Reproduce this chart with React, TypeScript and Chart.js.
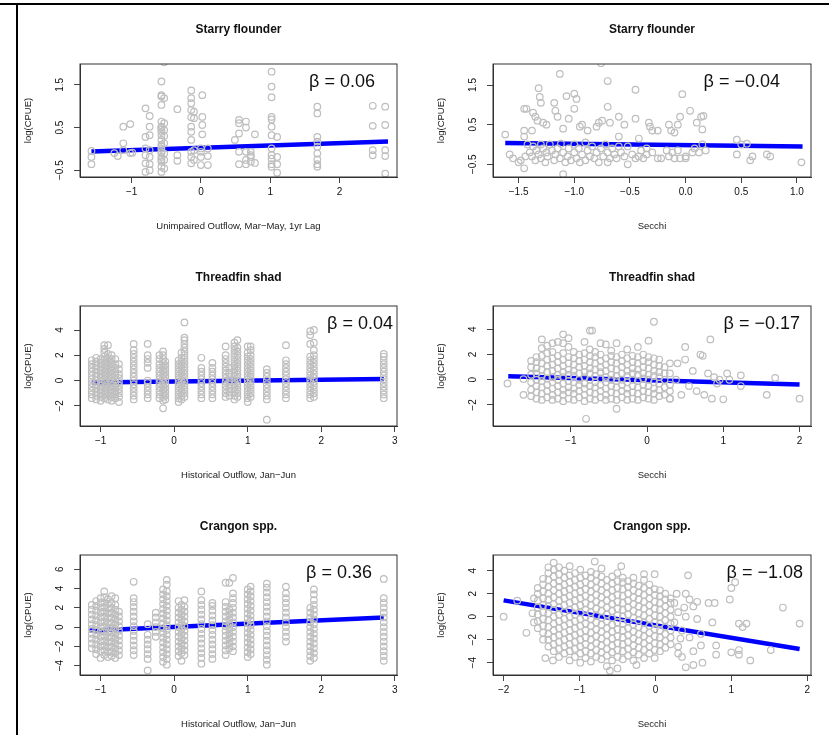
import { Chart, registerables } from "chart.js";
import { useEffect, useRef } from "react";

Chart.register(...registerables);

type Col = [number, number[]];

// ---- Starry flounder vs unimpaired outflow ----
const flounderOutflowCols: Col[] = [
  [-1.58, [-0.05, -0.19, -0.36]],
  [-1.25, [-0.1]],
  [-1.2, [-0.17]],
  [-1.12, [0.52, 0.13, -0.03]],
  [-1.02, [0.58, -0.1]],
  [-0.99, [-0.09]],
  [-0.8, [0.95, 0.28, 0.01, -0.15, -0.34, -0.54]],
  [-0.74, [0.77, 0.52, 0.32, -0.03, -0.19, -0.36, -0.5]],
  [-0.57, [1.58, 1.26, 1.23, 1.03, 0.64, 0.52, 0.32, 0.21, 0.05, -0.07, -0.19, -0.3, -0.42, -0.54, 0.5, 0.4, 0.45, 0.1, 0.0, -0.1, -0.25]],
  [-0.53, [2.03, 1.19, 0.44, 0.13, -0.11, -0.26, -0.46, 0.6, 0.3]],
  [-0.34, [0.93, -0.15, -0.28]],
  [-0.14, [1.37, 1.19, 1.07, 0.91, 0.74, 0.52, 0.4, 0.21, -0.07, -0.19, -0.34]],
  [-0.1, [0.87, 0.72, -0.03, -0.26]],
  [0.0, [0.01, -0.07, -0.19, -0.38]],
  [0.02, [1.26, 0.75, 0.56, 0.34]],
  [0.1, [0.01, -0.17, -0.38]],
  [0.49, [0.21]],
  [0.55, [0.68, 0.6, 0.36, -0.07, -0.36]],
  [0.65, [0.64, 0.5, -0.07, -0.26, -0.36]],
  [0.72, [-0.07, -0.15, -0.19, -0.3]],
  [0.78, [0.34, -0.33]],
  [1.02, [1.81, 1.46, 1.21, 0.75, 0.69, 0.52, 0.32, 0.01, -0.15, -0.23, -0.36, -0.42]],
  [1.1, [0.28, -0.19, -0.36, -0.56]],
  [1.68, [0.99, 0.83, 0.28, 0.17, 0.05, -0.11, -0.25, -0.36, -0.42]],
  [2.48, [1.01, 0.54, -0.03, -0.15]],
  [2.66, [0.99, 0.56, -0.03, -0.17, -0.58]],
];
const flounderOutflowFit: [number, number][] = [[-1.58, -0.06], [2.7, 0.17]];

// ---- Starry flounder vs Secchi ----
const flounderSecchiPts: [number, number][] = [
  [-1.62, 0.25], [-1.45, 0.9], [-1.43, 0.9], [-1.37, 0.8], [-1.35, 0.7], [-1.32, 1.42], [-1.31, 1.2], [-1.3, 1.05],
  [-1.33, 0.6], [-1.28, 0.55], [-1.25, 0.5], [-1.18, 1.05], [-1.17, 0.85], [-1.13, 1.78], [-1.15, 0.7], [-1.1, 0.4],
  [-1.05, 0.65], [-1.07, 1.22], [-1.0, 1.28], [-0.98, 1.15], [-1.0, 0.9], [-0.95, 0.45], [-0.93, 0.5], [-0.88, 0.35],
  [-0.8, 0.45], [-0.78, 0.55], [-0.75, 0.6], [-0.76, 2.05], [-0.7, 1.6], [-0.7, 0.95], [-0.68, 0.55], [-0.6, 0.7],
  [-0.55, 0.5], [-0.6, 0.2], [-0.45, 1.38], [-0.45, 0.65], [-0.42, 0.15], [-0.33, 0.55], [-0.32, 0.45], [-0.3, 0.35],
  [-0.25, 0.35], [-0.15, 0.5], [-0.13, 0.35], [-0.1, 0.3], [-0.07, 0.5], [-0.05, 0.7], [-0.03, 1.27], [0.04, 0.85],
  [0.1, 0.55], [0.14, 0.7], [0.16, 0.72], [0.15, 0.38], [0.46, 0.12], [0.55, 0.02], [-1.45, 0.35], [-1.45, 0.2],
  [-1.38, 0.35], [-1.58, -0.25], [-1.55, -0.35], [-1.5, -0.45], [-1.48, -0.4], [-1.45, -0.6], [-1.44, -0.3],
  [-1.42, 0.0], [-1.4, -0.2], [-1.38, -0.3], [-1.37, -0.05], [-1.35, -0.4], [-1.34, -0.15], [-1.32, -0.25],
  [-1.3, -0.35], [-1.3, 0.0], [-1.28, -0.1], [-1.26, -0.45], [-1.25, -0.2], [-1.24, -0.3], [-1.22, 0.0],
  [-1.2, -0.15], [-1.18, -0.4], [-1.17, -0.25], [-1.15, -0.1], [-1.13, -0.35], [-1.12, 0.02], [-1.1, -0.2],
  [-1.1, -0.75], [-1.08, -0.45], [-1.06, -0.3], [-1.05, -0.1], [-1.03, -0.4], [-1.0, -0.2], [-1.0, 0.0],
  [-0.98, -0.35], [-0.96, -0.1], [-0.95, -0.45], [-0.93, -0.25], [-0.9, -0.4], [-0.9, 0.05], [-0.88, -0.15],
  [-0.86, -0.3], [-0.84, -0.05], [-0.82, -0.35], [-0.8, -0.2], [-0.78, -0.45], [-0.76, -0.1], [-0.74, -0.3],
  [-0.72, 0.0], [-0.7, -0.2], [-0.7, -0.45], [-0.68, -0.35], [-0.66, -0.1], [-0.64, -0.25], [-0.62, -0.35],
  [-0.6, -0.05], [-0.58, -0.2], [-0.55, -0.3], [-0.52, -0.05], [-0.52, -0.5], [-0.48, -0.25], [-0.45, -0.35],
  [-0.42, -0.3], [-0.4, -0.15], [-0.38, -0.35], [-0.35, -0.1], [-0.35, -0.25], [-0.3, -0.2], [-0.25, -0.35],
  [-0.22, -0.35], [-0.17, -0.15], [-0.15, -0.3], [-0.12, -0.2], [-0.1, -0.35], [-0.07, -0.15], [-0.05, -0.35],
  [0.0, -0.3], [0.0, -0.35], [0.06, -0.2], [0.08, -0.1], [0.12, -0.2], [0.15, 0.0], [0.18, -0.15], [0.46, -0.25],
  [0.5, 0.0], [0.58, -0.4], [0.6, -0.3], [0.73, -0.25], [0.76, -0.3], [1.04, -0.45],
];
const flounderSecchiFit: [number, number][] = [[-1.62, 0.04], [1.05, -0.05]];

// ---- Threadfin shad vs historical outflow ----
const shadOutflowCols: Col[] = [
  [-1.12, [-1.4, -1.1, -0.8, -0.5, -0.2, 0.1, 0.4, 0.7, 1.0, 1.3, 1.6]],
  [-1.06, [-1.5, -1.2, -0.9, -0.6, -0.3, 0.0, 0.3, 0.6, 0.9, 1.2, 1.5, 1.8]],
  [-1.0, [-1.6, -1.3, -1.0, -0.7, -0.4, -0.1, 0.2, 0.5, 0.8, 1.1, 1.4, 1.7]],
  [-0.95, [-1.4, -1.1, -0.8, -0.5, -0.2, 0.1, 0.4, 0.7, 1.0, 1.3, 1.6, 1.9, 2.2, 2.5, 2.8]],
  [-0.9, [-1.5, -1.2, -0.9, -0.6, -0.3, 0.0, 0.3, 0.6, 0.9, 1.2, 1.5, 1.8, 2.1, 2.8]],
  [-0.85, [-1.6, -1.3, -1.0, -0.7, -0.4, -0.1, 0.2, 0.5, 0.8, 1.1, 1.4, 1.7, 2.0]],
  [-0.8, [-1.4, -1.1, -0.8, -0.5, -0.2, 0.1, 0.4, 0.7, 1.0, 1.3, 1.7]],
  [-0.75, [-1.7, -1.3, -1.0, -0.7, -0.4, -0.1, 0.2, 0.5, 0.9, 1.3]],
  [-0.55, [-1.5, -1.2, -0.9, -0.6, -0.3, 0.0, 0.3, 0.6, 0.9, 1.2, 1.5, 1.8, 2.1, 2.4, 2.9]],
  [-0.36, [-1.4, -1.1, -0.8, -0.5, -0.2, 0.0, 1.0, 1.4, 1.7, 2.0, 2.9]],
  [-0.2, [-1.4, -1.1, -0.8, -0.5, -0.2, 0.1, 0.4, 0.7, 1.0, 1.3, 1.7, 2.0]],
  [-0.15, [-2.2, -1.6, -1.3, -1.0, -0.7, -0.4, -0.1, 0.2, 0.5, 0.8, 1.1, 1.4, 1.7, 2.0, 2.3]],
  [-0.12, [-1.5, -1.2, -0.9, -0.6, -0.3, 0.0, 0.3, 0.6, 0.9, 1.2, 1.5]],
  [0.06, [-1.7, -1.4, -1.1, -0.8, -0.5, -0.2, 0.1, 0.4, 0.7, 1.0, 1.3, 1.6]],
  [0.1, [-1.5, -1.2, -0.9, -0.6, -0.3, 0.0, 0.3, 0.6, 0.9, 1.2, 1.5, 1.8, 2.2]],
  [0.14, [-1.3, -1.0, -0.7, -0.4, -0.1, 0.2, 0.5, 0.8, 1.1, 1.4, 1.7, 2.0, 2.3, 2.6, 2.9, 3.2, 3.4, 4.6]],
  [0.37, [-1.4, -1.1, -0.8, -0.5, -0.2, 0.1, 0.4, 0.7, 1.0, 1.8]],
  [0.52, [-1.4, -1.1, -0.8, -0.5, -0.2, 0.1, 0.4, 0.7, 1.0, 1.4]],
  [0.7, [-1.3, -1.0, -0.7, -0.4, -0.1, 0.2, 0.5, 0.8, 1.1, 1.4, 1.7, 2.0, 2.7]],
  [0.75, [-1.2, -0.9, -0.6, -0.3, 0.0, 0.3, 0.6, 1.0]],
  [0.82, [-1.5, -1.2, -0.9, -0.6, -0.3, 0.0, 0.3, 0.6, 0.9, 1.2, 1.5, 1.8, 2.1, 2.4, 2.7, 3.0]],
  [0.86, [-1.3, -1.0, -0.7, -0.4, -0.1, 0.2, 0.5, 0.8, 1.1, 1.4, 1.7, 2.0, 2.3, 2.6, 3.2]],
  [1.0, [-1.7, -1.4, -1.1, -0.8, -0.5, -0.2, 0.1, 0.4, 0.7, 1.0, 1.3, 1.6, 1.9, 2.2, 2.7]],
  [1.04, [-1.3, -1.0, -0.7, -0.4, -0.1, 0.2, 0.5, 0.8, 1.1, 1.4, 1.7, 2.0, 2.4, 2.7]],
  [1.26, [-3.1, -1.5, -1.2, -0.9, -0.6, -0.3, 0.0, 0.3, 0.6, 0.9]],
  [1.52, [-1.4, -1.1, -0.8, -0.5, -0.2, 0.1, 0.4, 0.7, 1.0, 1.3, 1.6, 2.8]],
  [1.85, [-1.4, -1.1, -0.8, -0.5, -0.2, 0.1, 0.4, 0.7, 1.0, 1.3, 1.6, 1.9, 2.9, 3.6, 3.9]],
  [1.9, [-1.3, -1.0, -0.7, -0.4, -0.1, 0.2, 0.5, 0.8, 1.1, 1.4, 1.7, 2.0, 2.4, 3.0, 4.0]],
  [2.85, [-1.4, -1.1, -0.8, -0.5, -0.2, 0.1, 0.4, 0.7, 1.0, 1.3, 1.6, 1.9, 2.1]],
];
const shadOutflowFit: [number, number][] = [[-1.12, -0.15], [2.85, 0.12]];

// ---- Threadfin shad vs Secchi ----
const shadSecchiCols: Col[] = [
  [-1.52, [-1.3, -0.8, -0.2, 0.4, 1.0, 1.5]],
  [-1.45, [-1.5, -1.0, -0.5, 0.0, 0.5, 0.9, 1.4, 1.8]],
  [-1.38, [-1.6, -1.1, -0.6, -0.1, 0.3, 0.8, 1.3, 1.9, 2.5, 3.2]],
  [-1.31, [-1.4, -0.9, -0.4, 0.1, 0.6, 1.1, 1.6, 2.1, 2.7]],
  [-1.24, [-1.6, -1.2, -0.7, -0.2, 0.2, 0.7, 1.2, 1.7, 2.2, 2.9]],
  [-1.17, [-1.5, -1.0, -0.5, 0.0, 0.4, 0.9, 1.4, 1.9, 3.0]],
  [-1.1, [-1.7, -1.2, -0.8, -0.3, 0.2, 0.6, 1.1, 1.6, 2.1, 2.9, 3.6]],
  [-1.03, [-1.5, -1.0, -0.6, -0.1, 0.4, 0.8, 1.3, 1.8, 2.6, 3.3]],
  [-0.96, [-1.6, -1.1, -0.7, -0.2, 0.3, 0.7, 1.2, 1.7, 2.2]],
  [-0.89, [-1.4, -0.9, -0.4, 0.0, 0.5, 1.0, 1.5, 2.0]],
  [-0.82, [-1.7, -1.2, -0.7, -0.3, 0.2, 0.6, 1.1, 1.6, 2.1, 3.0]],
  [-0.75, [-1.5, -1.0, -0.5, 0.0, 0.5, 0.9, 1.4, 1.9, 2.4, 3.9]],
  [-0.68, [-1.6, -1.1, -0.6, -0.2, 0.3, 0.8, 1.3, 1.8, 2.2]],
  [-0.61, [-1.4, -0.9, -0.4, 0.1, 0.6, 1.0, 1.5, 2.0, 2.9]],
  [-0.54, [-1.6, -1.2, -0.7, -0.2, 0.2, 0.7, 1.2, 1.7, 2.8]],
  [-0.47, [-1.5, -1.0, -0.5, 0.0, 0.4, 0.9, 1.4, 1.9, 2.3]],
  [-0.4, [-2.3, -1.6, -1.1, -0.6, -0.1, 0.3, 0.8, 1.3, 1.8, 2.9]],
  [-0.33, [-1.4, -0.9, -0.4, 0.0, 0.5, 1.0, 1.5, 2.0]],
  [-0.26, [-1.6, -1.1, -0.7, -0.2, 0.3, 0.7, 1.2, 1.7, 2.4]],
  [-0.19, [-1.5, -1.0, -0.5, 0.0, 0.5, 0.9, 1.4, 1.9]],
  [-0.12, [-1.6, -1.1, -0.6, -0.1, 0.4, 0.8, 1.3, 1.8, 2.6]],
  [-0.05, [-1.4, -0.9, -0.4, 0.1, 0.5, 1.0, 1.5, 2.0]],
  [0.02, [-1.5, -1.0, -0.5, 0.0, 0.4, 0.9, 1.4, 1.8, 3.1]],
  [0.09, [-1.6, -1.1, -0.7, -0.2, 0.3, 0.7, 1.2, 1.7, 4.6]],
  [0.16, [-1.3, -0.8, -0.3, 0.2, 0.6, 1.1, 1.6]],
  [0.23, [-1.2, -0.6, 0.0, 0.5, 1.0]],
  [0.3, [-1.5, -0.9, -0.4, 0.5, 1.3]],
];
const shadSecchiPts: [number, number][] = [
  [-1.83, -0.3], [-1.62, 0.05], [-1.62, -1.2], [-0.8, -3.1], [-0.72, 3.9], [0.83, 3.2], [1.0, -1.55],
  [1.05, 0.5], [1.23, 0.35], [1.23, -0.5], [1.57, -1.2], [1.68, 0.15], [2.0, -1.5], [0.5, 2.6], [0.7, 2.0],
  [0.73, 1.9], [0.6, 0.7], [0.88, 0.2], [0.92, -0.3], [0.95, 0.0], [0.85, -1.5], [0.75, -1.2], [0.5, 1.6],
  [0.45, -1.2], [0.4, 1.3], [0.3, -1.5], [0.38, 0.0], [0.55, -0.5], [0.65, -0.9], [0.8, 0.5], [1.08, 0.0],
];
const shadSecchiFit: [number, number][] = [[-1.82, 0.28], [2.0, -0.38]];

// ---- Crangon vs historical outflow ----
const crangonOutflowCols: Col[] = [
  [-1.12, [-2.2, -1.7, -1.2, -0.7, -0.2, 0.3, 0.8, 1.3, 1.8, 2.3]],
  [-1.06, [-2.8, -2.3, -1.8, -1.3, -0.8, -0.3, 0.2, 0.7, 1.2, 1.7, 2.2, 2.7]],
  [-1.0, [-3.2, -2.5, -2.0, -1.5, -1.0, -0.5, 0.0, 0.5, 1.0, 1.5, 2.0, 2.5, 3.0]],
  [-0.95, [-2.9, -2.4, -1.9, -1.4, -0.9, -0.4, 0.1, 0.6, 1.1, 1.6, 2.1, 2.6, 3.1, 3.7]],
  [-0.9, [-3.1, -2.6, -2.1, -1.6, -1.1, -0.6, -0.1, 0.4, 0.9, 1.4, 1.9, 2.4, 2.9]],
  [-0.85, [-3.0, -2.5, -2.0, -1.5, -1.0, -0.5, 0.0, 0.5, 1.0, 1.5, 2.0, 2.5, 3.2]],
  [-0.8, [-3.2, -2.7, -2.2, -1.7, -1.2, -0.7, -0.2, 0.3, 0.8, 1.3, 1.8, 2.3, 3.0]],
  [-0.75, [-2.9, -2.4, -1.9, -1.4, -0.9, -0.4, 0.1, 0.6, 1.1, 1.6]],
  [-0.55, [-2.9, -2.4, -1.9, -1.4, -0.9, -0.4, 0.1, 0.6, 1.1, 1.6, 2.1, 2.6, 3.0, 4.7]],
  [-0.36, [-4.5, -3.3, -2.8, -2.3, -1.8, -1.3, -0.8, 0.3]],
  [-0.25, [-1.0, -0.5, 0.0, 0.5, 1.0, 1.5]],
  [-0.15, [-3.6, -3.1, -2.6, -2.1, -1.6, -1.1, -0.6, -0.1, 0.4, 0.9, 1.4, 1.9, 2.4, 2.9, 3.4, 3.9]],
  [-0.1, [-3.9, -3.3, -2.8, -2.3, -1.8, -1.3, -0.8, -0.3, 0.2, 0.7, 1.2, 1.7, 2.2, 2.7, 3.2, 3.7, 4.4, 4.9]],
  [0.06, [-3.0, -2.5, -2.0, -1.5, -1.0, -0.5, 0.0, 0.5, 1.0, 1.5, 2.0, 2.7]],
  [0.1, [-3.5, -2.7, -2.2, -1.7, -1.2, -0.7, -0.2, 0.3, 0.8, 1.3, 1.8, 2.3]],
  [0.14, [-2.9, -2.4, -1.9, -1.4, -0.9, -0.4, 0.1, 0.6, 1.1, 1.6, 2.1, 2.8]],
  [0.37, [-3.8, -3.2, -2.7, -2.2, -1.7, -1.2, -0.7, -0.2, 0.3, 0.8, 1.3, 1.8, 2.3, 2.8, 3.7]],
  [0.52, [-3.3, -2.8, -2.3, -1.8, -1.3, -0.8, -0.3, 0.2, 0.7, 1.2, 1.7, 2.2, 2.5]],
  [0.7, [-2.9, -2.4, -1.9, -1.4, -0.9, -0.4, 0.1, 0.6, 1.1, 1.6, 2.1, 2.6, 4.6]],
  [0.75, [-2.2, -1.7, -1.2, -0.7, -0.2, 0.3, 0.8, 1.3, 1.8, 4.6]],
  [0.8, [-2.5, -2.0, -1.5, -1.0, -0.5, 0.0, 0.5, 1.0, 1.5, 2.0, 2.5, 3.0, 3.5, 5.1]],
  [1.0, [-3.1, -2.6, -2.1, -1.6, -1.1, -0.6, -0.1, 0.4, 0.9, 1.4, 1.9, 2.4, 2.9, 3.4, 3.9]],
  [1.04, [-2.8, -2.3, -1.8, -1.3, -0.8, -0.3, 0.2, 0.7, 1.2, 1.7, 2.2, 2.7, 3.2, 3.7, 4.2]],
  [1.26, [-3.9, -3.4, -2.9, -2.4, -1.9, -1.4, -0.9, -0.4, 0.1, 0.6, 1.1, 1.6, 2.1, 2.6, 3.1, 3.6, 4.1, 4.5]],
  [1.52, [-1.5, -1.0, -0.5, 0.0, 0.5, 1.0, 1.5, 2.0, 2.5, 3.0, 3.5, 4.2]],
  [1.85, [-3.5, -3.0, -2.5, -2.0, -1.5, -1.0, -0.5, 0.0, 0.5, 1.0, 1.5, 2.0]],
  [1.9, [-3.2, -2.7, -2.2, -1.7, -1.2, -0.7, -0.2, 0.3, 0.8, 1.3, 1.8, 2.3, 2.8, 3.4, 3.9]],
  [2.85, [-3.5, -3.0, -2.5, -2.0, -1.5, -1.0, -0.5, 0.0, 0.5, 1.0, 1.5, 2.0, 2.5, 3.0, 5.0]],
];
const crangonOutflowFit: [number, number][] = [[-1.15, -0.38], [2.85, 1.0]];

// ---- Crangon vs Secchi ----
const crangonSecchiCols: Col[] = [
  [-1.55, [-1.0, -0.4, 0.2, 0.8, 1.4, 2.0, 2.5]],
  [-1.48, [-2.0, -1.4, -0.8, -0.2, 0.4, 1.0, 1.6, 2.2, 2.8, 3.3]],
  [-1.41, [-2.6, -2.0, -1.5, -0.9, -0.3, 0.3, 0.9, 1.5, 2.0, 2.6, 3.2, 3.8, 4.3]],
  [-1.34, [-3.0, -2.4, -1.8, -1.2, -0.6, 0.0, 0.6, 1.1, 1.7, 2.3, 2.9, 3.5, 4.1, 4.7]],
  [-1.27, [-3.5, -2.8, -2.2, -1.6, -1.0, -0.4, 0.2, 0.8, 1.4, 2.0, 2.6, 3.1, 3.7, 4.3]],
  [-1.2, [-3.2, -2.6, -2.0, -1.4, -0.8, -0.2, 0.4, 1.0, 1.6, 2.2, 2.8, 3.4, 4.0]],
  [-1.13, [-3.8, -3.0, -2.4, -1.8, -1.2, -0.6, 0.0, 0.6, 1.2, 1.8, 2.4, 3.0, 3.6, 4.4]],
  [-1.06, [-3.5, -2.8, -2.2, -1.6, -1.0, -0.4, 0.2, 0.8, 1.4, 2.0, 2.6, 3.2, 3.8]],
  [-0.99, [-4.0, -3.2, -2.6, -2.0, -1.4, -0.8, -0.2, 0.4, 1.0, 1.6, 2.2, 2.8, 3.4, 4.1]],
  [-0.92, [-3.6, -3.0, -2.4, -1.8, -1.2, -0.6, 0.0, 0.6, 1.2, 1.8, 2.4, 3.0, 3.6]],
  [-0.85, [-3.9, -3.2, -2.6, -2.0, -1.4, -0.8, -0.2, 0.4, 1.0, 1.6, 2.2, 2.8, 3.4, 3.9]],
  [-0.78, [-3.5, -2.9, -2.3, -1.7, -1.1, -0.5, 0.1, 0.7, 1.3, 1.9, 2.5, 3.1, 3.7]],
  [-0.71, [-3.7, -3.1, -2.5, -1.9, -1.3, -0.7, -0.1, 0.5, 1.1, 1.7, 2.3, 2.9, 3.5, 4.2]],
  [-0.64, [-4.3, -3.4, -2.8, -2.2, -1.6, -1.0, -0.4, 0.2, 0.8, 1.4, 2.0, 2.6, 3.2]],
  [-0.57, [-3.8, -3.1, -2.5, -1.9, -1.3, -0.7, -0.1, 0.5, 1.1, 1.7, 2.3, 2.9, 3.5]],
  [-0.5, [-4.5, -3.5, -2.9, -2.3, -1.7, -1.1, -0.5, 0.1, 0.7, 1.3, 1.9, 2.5, 3.1, 3.8]],
  [-0.43, [-3.7, -3.0, -2.4, -1.8, -1.2, -0.6, 0.0, 0.6, 1.2, 1.8, 2.4, 3.0, 3.4]],
  [-0.36, [-3.4, -2.8, -2.2, -1.6, -1.0, -0.4, 0.2, 0.8, 1.4, 2.0, 2.6, 3.1]],
  [-0.29, [-3.8, -3.1, -2.5, -1.9, -1.3, -0.7, -0.1, 0.5, 1.1, 1.7, 2.3, 2.9, 3.4]],
  [-0.22, [-3.3, -2.7, -2.1, -1.5, -0.9, -0.3, 0.3, 0.9, 1.5, 2.1, 2.7]],
  [-0.15, [-3.6, -2.9, -2.3, -1.7, -1.1, -0.5, 0.1, 0.7, 1.3, 1.9, 2.5, 3.2]],
  [-0.08, [-3.2, -2.6, -2.0, -1.4, -0.8, -0.2, 0.4, 1.0, 1.6, 2.2, 2.8]],
  [-0.01, [-3.6, -2.9, -2.3, -1.7, -1.1, -0.5, 0.1, 0.7, 1.3, 1.9, 2.4, 3.7]],
  [0.06, [-3.0, -2.4, -1.8, -1.2, -0.6, 0.0, 0.6, 1.2, 1.8, 2.3]],
  [0.13, [-2.7, -2.1, -1.5, -0.9, -0.3, 0.3, 0.9, 1.5, 2.0]],
  [0.2, [-2.4, -1.8, -1.2, -0.6, 0.0, 0.6, 1.2, 1.6]],
];
const crangonSecchiPts: [number, number][] = [
  [-2.0, 0.0], [-1.82, 1.4], [-1.7, -1.4], [-1.62, 0.3], [-1.6, -0.5], [-1.6, 1.6], [-1.45, -3.6], [0.3, -2.6],
  [0.3, -3.2], [0.35, -3.5], [0.4, 2.0], [0.4, -4.4], [0.43, 3.6], [0.45, 1.5], [0.5, -4.2], [0.5, -3.0],
  [0.5, 0.9], [0.55, 1.3], [0.55, -0.2], [0.6, -1.5], [0.6, -2.5], [0.62, -4.0], [0.7, 1.2], [0.75, -0.5],
  [0.78, 1.2], [0.8, -2.5], [0.8, -3.3], [0.98, 1.5], [1.0, -3.1], [1.0, 2.5], [1.05, 3.0], [1.1, -0.6],
  [1.1, -3.3], [1.15, -0.9], [1.2, -0.6], [1.1, -2.9], [1.25, -3.8], [1.52, -2.9], [1.68, 0.8], [1.9, -0.6],
  [0.25, 1.2], [0.25, -0.5], [0.3, 0.4], [0.35, -1.2], [0.4, 0.0], [0.45, -1.8], [0.28, 2.0], [-0.25, -4.2],
  [-0.6, -4.7], [-0.15, 3.7], [-0.45, 4.4], [-0.8, 4.8], [-1.35, -3.8], [0.33, -1.9], [0.38, 0.8],
];
const crangonSecchiFit: [number, number][] = [[-2.0, 1.42], [1.9, -2.81]];

// tick values
const ticksOutflowA = [-1, 0, 1, 2];
const ticksOutflowB = [-1, 0, 1, 2, 3];
const ticksSecchiA = [-1.5, -1.0, -0.5, 0.0, 0.5, 1.0];
const ticksSecchiB = [-1, 0, 1, 2];
const ticksSecchiC = [-2, -1, 0, 1, 2];
const ticksCpueA = [-0.5, 0.5, 1.5];
const ticksCpueB = [-2, 0, 2, 4];
const ticksCpueC = [-4, -2, 0, 2, 4, 6];
const ticksCpueD = [-4, -2, 0, 2, 4];

const FONT = "'Liberation Sans', Arial, sans-serif";
const minus = (s: string) => s.replace("-", "\u2212");

type Box = { l: number; t: number; r: number; b: number };
type Panel = {
  title: string;
  xTitle: string;
  beta: string;
  betaRight: number;
  titleOff: number;
  box: Box;
  canvas: { l: number; t: number; w: number; h: number };
  xRange: [number, number];
  yRange: [number, number];
  xTicks: number[];
  xDec: number;
  yTicks: number[];
  yDec: number;
  points: { x: number; y: number }[];
  fit: [number, number][];
};

const fromCols = (cols: Col[]) => cols.flatMap(([x, ys]) => ys.map((y) => ({ x, y })));
const fromPts = (pts: [number, number][]) => pts.map(([x, y]) => ({ x, y }));

const LEFT = { l: 17, w: 398 };
const RIGHT = { l: 415, w: 414 };
const ROWS = [
  { t: 0, h: 245, bt: 64, bb: 177, off: 34 },
  { t: 245, h: 245, bt: 306, bb: 426, off: 28 },
  { t: 490, h: 245, bt: 555, bb: 675, off: 28 },
];

const mk = (col: "L" | "R", row: number, p: Omit<Panel, "box" | "canvas" | "titleOff">): Panel => {
  const c = col === "L" ? LEFT : RIGHT;
  const r = ROWS[row];
  const box = col === "L" ? { l: 80, r: 397, t: r.bt, b: r.bb } : { l: 493, r: 811, t: r.bt, b: r.bb };
  return { ...p, box, titleOff: r.off, canvas: { l: c.l, t: r.t, w: c.w, h: r.h } };
};

const panels: Panel[] = [
  mk("L", 0, {
    title: "Starry flounder", xTitle: "Unimpaired Outflow, Mar\u2212May, 1yr Lag", beta: "\u03b2 = 0.06", betaRight: 375,
    xRange: [-1.745, 2.83], yRange: [-0.66, 1.99], xTicks: ticksOutflowA, xDec: 0, yTicks: ticksCpueA, yDec: 1,
    points: fromCols(flounderOutflowCols), fit: flounderOutflowFit,
  }),
  mk("R", 0, {
    title: "Starry flounder", xTitle: "Secchi", beta: "\u03b2 = \u22120.04", betaRight: 780,
    xRange: [-1.73, 1.126], yRange: [-0.82, 2.03], xTicks: ticksSecchiA, xDec: 1, yTicks: ticksCpueA, yDec: 1,
    points: fromPts(flounderSecchiPts), fit: flounderSecchiFit,
  }),
  mk("L", 1, {
    title: "Threadfin shad", xTitle: "Historical Outflow, Jan\u2212Jun", beta: "\u03b2 = 0.04", betaRight: 393,
    xRange: [-1.28, 3.03], yRange: [-3.6, 5.9], xTicks: ticksOutflowB, xDec: 0, yTicks: ticksCpueB, yDec: 0,
    points: fromCols(shadOutflowCols), fit: shadOutflowFit,
  }),
  mk("R", 1, {
    title: "Threadfin shad", xTitle: "Secchi", beta: "\u03b2 = \u22120.17", betaRight: 800,
    xRange: [-2.02, 2.15], yRange: [-3.67, 5.85], xTicks: ticksSecchiB, xDec: 0, yTicks: ticksCpueB, yDec: 0,
    points: [...fromCols(shadSecchiCols), ...fromPts(shadSecchiPts)], fit: shadSecchiFit,
  }),
  mk("L", 2, {
    title: "Crangon spp.", xTitle: "Historical Outflow, Jan\u2212Jun", beta: "\u03b2 = 0.36", betaRight: 372,
    xRange: [-1.28, 3.03], yRange: [-4.97, 7.48], xTicks: ticksOutflowB, xDec: 0, yTicks: ticksCpueC, yDec: 0,
    points: fromCols(crangonOutflowCols), fit: crangonOutflowFit,
  }),
  mk("R", 2, {
    title: "Crangon spp.", xTitle: "Secchi", beta: "\u03b2 = \u22121.08", betaRight: 803,
    xRange: [-2.14, 2.05], yRange: [-5.07, 5.37], xTicks: ticksSecchiC, xDec: 0, yTicks: ticksCpueD, yDec: 0,
    points: [...fromCols(crangonSecchiCols), ...fromPts(crangonSecchiPts)], fit: crangonSecchiFit,
  }),
];

const Y_W = 60;
const X_H = 55;

function ScatterPanel({ p }: { p: Panel }) {
  const ref = useRef<HTMLCanvasElement | null>(null);

  useEffect(() => {
    const el = ref.current;
    if (!el) return;
    const { box, canvas } = p;
    const padding = {
      left: box.l - canvas.l - Y_W,
      top: box.t - canvas.t,
      right: canvas.l + canvas.w - box.r,
      bottom: canvas.t + canvas.h - box.b - X_H,
    };

    const decor = {
      id: "rDecor",
      afterDraw(chart: Chart) {
        const ctx = chart.ctx;
        const a = chart.chartArea;
        const ys = chart.scales.y;
        ctx.save();
        ctx.strokeStyle = "#333";
        ctx.lineWidth = 1;
        ctx.strokeRect(a.left, a.top, a.right - a.left, a.bottom - a.top);
        ctx.fillStyle = "#111";
        ctx.textAlign = "center";
        ctx.textBaseline = "middle";
        ctx.font = `bold 12px ${FONT}`;
        ctx.fillText(p.title, (a.left + a.right) / 2, a.top - p.titleOff);
        ctx.font = `9.5px ${FONT}`;
        ctx.fillStyle = "#222";
        ctx.fillText(p.xTitle, (a.left + a.right) / 2, a.bottom + 49);
        ctx.fillStyle = "#111";
        ctx.textAlign = "right";
        ctx.font = `18px ${FONT}`;
        ctx.fillText(p.beta, p.betaRight - canvas.l, a.top + 18);
        ctx.textAlign = "center";
        p.yTicks.forEach((v) => {
          ctx.save();
          ctx.translate(a.left - 20, ys.getPixelForValue(v));
          ctx.rotate(-Math.PI / 2);
          ctx.font = `10px ${FONT}`;
          ctx.fillText(minus(v.toFixed(p.yDec)), 0, 0);
          ctx.restore();
        });
        ctx.save();
        ctx.translate(a.left - 52, (a.top + a.bottom) / 2);
        ctx.rotate(-Math.PI / 2);
        ctx.font = `9.5px ${FONT}`;
        ctx.fillStyle = "#222";
        ctx.fillText("log(CPUE)", 0, 0);
        ctx.restore();
        ctx.restore();
      },
    };

    const chart = new Chart(el, {
      type: "scatter",
      data: {
        datasets: [
          {
            data: p.points,
            pointRadius: 3.3,
            pointBorderWidth: 1.2,
            pointBorderColor: "#bebebe",
            pointBackgroundColor: "rgba(0,0,0,0)",
            order: 1,
          },
          {
            type: "line",
            data: p.fit.map(([x, y]) => ({ x, y })),
            borderColor: "#0000ff",
            borderWidth: 4.5,
            pointRadius: 0,
            order: 2,
          },
        ],
      } as any,
      options: {
        responsive: false,
        animation: false,
        layout: { padding },
        plugins: { legend: { display: false }, tooltip: { enabled: false } },
        scales: {
          x: {
            type: "linear",
            min: p.xRange[0],
            max: p.xRange[1],
            afterBuildTicks: (s: any) => {
              s.ticks = p.xTicks.map((v) => ({ value: v }));
            },
            afterFit: (s: any) => {
              s.height = X_H;
            },
            ticks: {
              callback: (v: any) => minus(Number(v).toFixed(p.xDec)),
              font: { size: 10, family: FONT },
              color: "#111",
              padding: 3,
              maxRotation: 0,
              autoSkip: false,
            },
            grid: { drawOnChartArea: false, drawTicks: true, tickLength: 6, color: "#444" },
            border: { display: true, color: "#333" },
          },
          y: {
            type: "linear",
            min: p.yRange[0],
            max: p.yRange[1],
            afterBuildTicks: (s: any) => {
              s.ticks = p.yTicks.map((v) => ({ value: v }));
            },
            afterFit: (s: any) => {
              s.width = Y_W;
            },
            ticks: { color: "rgba(0,0,0,0)", font: { size: 10, family: FONT } },
            grid: { drawOnChartArea: false, drawTicks: true, tickLength: 6, color: "#444" },
            border: { display: true, color: "#333" },
          },
        },
      } as any,
      plugins: [decor],
    });
    return () => chart.destroy();
  }, [p]);

  return (
    <canvas
      ref={ref}
      width={p.canvas.w}
      height={p.canvas.h}
      style={{ position: "absolute", left: p.canvas.l, top: p.canvas.t, width: p.canvas.w, height: p.canvas.h }}
    />
  );
}

export default function App() {
  return (
    <div style={{ position: "absolute", left: 0, top: 0, width: 829, height: 735, background: "#fff", overflow: "hidden" }}>
      <div style={{ position: "absolute", left: 0, top: 3, width: 829, height: 0, borderTop: "2px solid #000" }} />
      <div style={{ position: "absolute", left: 16, top: 3, width: 0, height: 732, borderLeft: "2px solid #000" }} />
      {panels.map((p, i) => (
        <ScatterPanel key={i} p={p} />
      ))}
    </div>
  );
}
